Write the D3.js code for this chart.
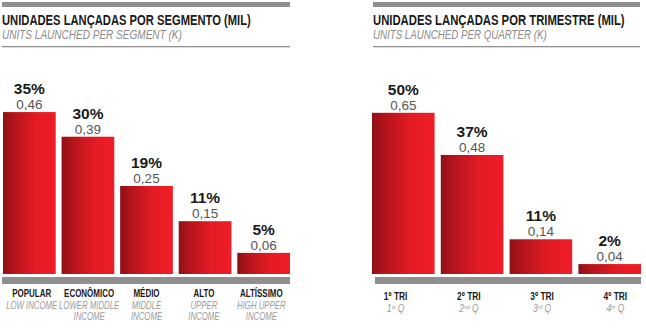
<!DOCTYPE html>
<html><head><meta charset="utf-8">
<script src="https://cdn.jsdelivr.net/npm/d3@7"></script>
<style>
body{margin:0;background:#fff;}
svg{display:block;}
.cond{font-family:"Liberation Sans","Arial",sans-serif;}
.reg{font-family:"Liberation Sans","Helvetica","Arial",sans-serif;}
</style>
</head><body>
<svg id="chart" width="646" height="329"></svg>
<script>
// Panel 1 data
const segCategories = ["POPULAR","ECONÔMICO","MÉDIO","ALTO","ALTÍSSIMO"];
const segSubLabels = [["LOW INCOME"],["LOWER MIDDLE","INCOME"],["MIDDLE","INCOME"],["UPPER","INCOME"],["HIGH UPPER","INCOME"]];
const segValues = [0.46,0.39,0.25,0.15,0.06];
const segPercents = ["35%","30%","19%","11%","5%"];
const segValueLabels = ["0,46","0,39","0,25","0,15","0,06"];

// Panel 2 data
const qCategories = ["1º TRI","2º TRI","3º TRI","4º TRI"];
const qSubLabels = [["1","st"," Q"],["2","nd"," Q"],["3","rd"," Q"],["4","th"," Q"]];
const qValues = [0.65,0.48,0.14,0.04];
const qPercents = ["50%","37%","11%","2%"];
const qValueLabels = ["0,65","0,48","0,14","0,04"];

const titles = ["UNIDADES LANÇADAS POR SEGMENTO (MIL)","UNIDADES LANÇADAS POR TRIMESTRE (MIL)"];
const subtitles = ["UNITS LAUNCHED PER SEGMENT (K)","UNITS LAUNCHED PER QUARTER (K)"];

const svg = d3.select("#chart");
const defs = svg.append("defs");
const grad = defs.append("linearGradient").attr("id","redgrad").attr("x1","0%").attr("x2","100%").attr("y1","0").attr("y2","0");
[["0%","#8c1016"],["18%","#b0141b"],["60%","#e21b24"],["100%","#ef1d27"]].forEach(s=>grad.append("stop").attr("offset",s[0]).attr("stop-color",s[1]));

// condensed text: placed at (x,y), squeezed horizontally via transform
function ctext(parent, x, y, str, attrs, factor, target){
  const t = parent.append("text").attr("class","cond").attr("x",0).attr("y",0);
  Object.entries(attrs).forEach(([k,v])=>t.attr(k,v));
  if (str !== null) t.text(str);
  let f = factor;
  if (target){ f = target / t.node().getComputedTextLength(); }
  t.attr("transform",`translate(${x},${y}) scale(${f},1)`);
  return t;
}

function header(x0,x1,i,tw,sw){
  svg.append("rect").attr("x",x0).attr("y",2).attr("width",x1-x0).attr("height",5).attr("fill","#8f8f8f");
  ctext(svg,x0,24.5,titles[i],{"font-size":15.5,"font-weight":"bold","fill":"#1a1a1a"},1,tw);
  ctext(svg,x0,38.5,subtitles[i],{"font-size":12,"font-style":"italic","fill":"#8a8a8a"},1,sw);
  svg.append("rect").attr("x",x0).attr("y",46).attr("width",x1-x0).attr("height",1.3).attr("fill","#8f8f8f");
}

function panel(opts){
  const {x0,x1,cats,vals,pcts,vlabs,yScaleMax,padInner,baseY,axisX0,axisX1,labelRange} = opts;
  const x = d3.scaleBand().domain(cats).range([x0,x1]).paddingInner(padInner).paddingOuter(0);
  const y = d3.scaleLinear().domain([0,yScaleMax]).range([baseY,baseY-yScaleMax*opts.pxPerUnit]);
  const lx = d3.scaleBand().domain(cats).range(labelRange);
  const g = svg.append("g");
  g.selectAll("rect.bar").data(vals).join("rect").attr("class","bar")
    .attr("x",(d,i)=>x(cats[i])).attr("width",x.bandwidth())
    .attr("y",d=>y(d)).attr("height",d=>baseY-y(d)).attr("fill","url(#redgrad)");
  g.selectAll("text.pct").data(vals).join("text").attr("class","pct reg")
    .attr("x",(d,i)=>x(cats[i])+x.bandwidth()/2).attr("y",d=>y(d)-18)
    .attr("text-anchor","middle").attr("font-size",15.5).attr("font-weight","bold").attr("fill","#1a1a1a")
    .text((d,i)=>pcts[i]);
  g.selectAll("text.val").data(vals).join("text").attr("class","val reg")
    .attr("x",(d,i)=>x(cats[i])+x.bandwidth()/2).attr("y",d=>y(d)-3)
    .attr("text-anchor","middle").attr("font-size",13.5).attr("fill","#555").text((d,i)=>vlabs[i]);
  g.append("rect").attr("x",axisX0).attr("y",baseY+3).attr("width",axisX1-axisX0).attr("height",7).attr("fill","#8f8f8f");
  return {x,lx,g};
}

// Left
header(2,290,0,249,180);
const p1 = panel({x0:3,x1:290,cats:segCategories,vals:segValues,pcts:segPercents,vlabs:segValueLabels,yScaleMax:0.5,pxPerUnit:352,padInner:0.1,baseY:274,axisX0:2,axisX1:290,labelRange:[3,290]});
segCategories.forEach((c,i)=>{
  const cx = p1.lx(c)+p1.lx.bandwidth()/2;
  ctext(p1.g,cx,297,c,{"text-anchor":"middle","font-size":10.5,"font-weight":"bold","fill":"#1a1a1a"},0.76);
  segSubLabels[i].forEach((s,j)=>{
    ctext(p1.g,cx,309+j*11,s,{"text-anchor":"middle","font-size":10,"font-style":"italic","fill":"#9a9a9a"},0.78);
  });
});

// Right
header(373,640,1,252,174);
const p2 = panel({x0:372,x1:641,cats:qCategories,vals:qValues,pcts:qPercents,vlabs:qValueLabels,yScaleMax:0.7,pxPerUnit:248,padInner:0.09,baseY:274,axisX0:375,axisX1:641,labelRange:[359,652]});
qCategories.forEach((c,i)=>{
  const cx = p2.lx(c)+p2.lx.bandwidth()/2;
  ctext(p2.g,cx,300,c,{"text-anchor":"middle","font-size":10.5,"font-weight":"bold","fill":"#1a1a1a"},0.8);
  const st = ctext(p2.g,cx,311.5,null,{"text-anchor":"middle","font-size":10,"font-style":"italic","fill":"#9a9a9a"},0.85);
  const s = qSubLabels[i];
  st.append("tspan").text(s[0]);
  st.append("tspan").attr("font-size",6).attr("dy",-3).text(s[1]);
  st.append("tspan").attr("dy",3).text(s[2]);
});
</script>
</body></html>
